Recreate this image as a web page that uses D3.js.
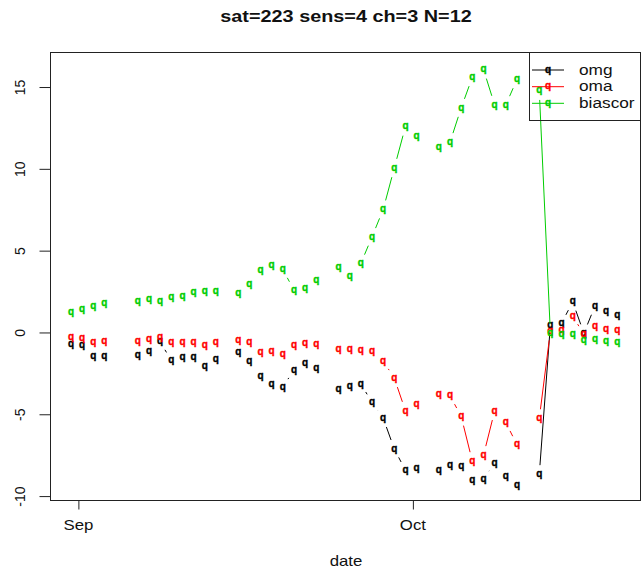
<!DOCTYPE html>
<html>
<head>
<meta charset="utf-8">
<script src="https://cdn.jsdelivr.net/npm/d3@7"></script>
<style>
  body { margin: 0; background: #fff; }
  text { font-family: "Liberation Sans", Arial, Helvetica, sans-serif; }
</style>
</head>
<body>
<svg id="chart" width="643" height="569"></svg>
<script>
// Daily observation dates (null values mark days with no data)
const dates = [
  "2020-08-31","2020-09-01","2020-09-02","2020-09-03","2020-09-04","2020-09-05",
  "2020-09-06","2020-09-07","2020-09-08","2020-09-09","2020-09-10","2020-09-11","2020-09-12","2020-09-13","2020-09-14",
  "2020-09-15","2020-09-16","2020-09-17","2020-09-18","2020-09-19","2020-09-20","2020-09-21","2020-09-22","2020-09-23",
  "2020-09-24","2020-09-25","2020-09-26","2020-09-27","2020-09-28","2020-09-29","2020-09-30","2020-10-01","2020-10-02",
  "2020-10-03","2020-10-04","2020-10-05","2020-10-06","2020-10-07","2020-10-08","2020-10-09","2020-10-10","2020-10-11",
  "2020-10-12","2020-10-13","2020-10-14","2020-10-15","2020-10-16","2020-10-17","2020-10-18","2020-10-19"
];
const omg = [
  -0.70, -0.76, -1.47, -1.47, null, null,
  -1.41, -1.13, -0.56, -1.72, -1.54, -1.54, -2.08, -1.62, null,
  -1.23, -1.78, -2.69, -3.14, -3.34, -2.29, -1.88, -2.18, null,
  -3.46, -3.26, -3.14, -4.28, -5.23, -7.12, -8.43, -8.28, null,
  -8.43, -8.12, -8.18, -9.04, -8.95, -7.98, -8.79, -9.34, null,
  -8.69, 0.46, 0.56, 1.88, -0.05, 1.62, 1.27, 1.07
];
const oma = [
  -0.29, -0.35, -0.62, -0.56, null, null,
  -0.56, -0.41, -0.29, -0.62, -0.62, -0.62, -0.76, -0.60, null,
  -0.46, -0.60, -1.23, -1.17, -1.31, -0.76, -0.66, -0.72, null,
  -1.02, -1.01, -1.07, -1.17, -1.74, -2.79, -4.79, -4.42, null,
  -3.75, -3.87, -5.13, -7.88, -7.51, -4.79, -5.50, -6.86, null,
  -5.27, 0.10, 0.11, 1.00, -0.11, 0.40, 0.19, 0.15
];
const biascor = [
  1.21, 1.41, 1.57, 1.78, null, null,
  1.88, 2.02, 1.92, 2.15, 2.24, 2.45, 2.53, 2.53, null,
  2.39, 2.96, 3.81, 4.10, 3.85, 2.59, 2.70, 3.16, null,
  4.01, 3.45, 4.22, 5.84, 7.51, 10.05, 12.59, 11.98, null,
  11.33, 11.63, 13.73, 15.60, 16.07, 13.91, 13.91, 15.46, null,
  14.79, -0.05, -0.11, -0.09, -0.46, -0.40, -0.52, -0.58
];
const seriesNames = ["omg", "oma", "biascor"];
const seriesColors = ["#000000", "#FF0000", "#00CD00"];
const yTicks = [-10, -5, 0, 5, 10, 15];
const xTickDates = ["2020-09-01", "2020-10-01"];
const xTickLabels = ["Sep", "Oct"];
const titleText = "sat=223 sens=4 ch=3 N=12";
const xLabel = "date";

const svg = d3.select("#chart");
const plot = { left: 50.5, right: 640.5, top: 52.5, bottom: 500.5 };

const obsTime = "T08:00:00Z";
const parsed = dates.map(d => new Date(d + obsTime));

const x = d3.scaleUtc()
  .domain([new Date("2020-08-29T12:00:00Z"), new Date("2020-10-21T11:00:00Z")])
  .range([plot.left, plot.right + 0.5]);
const y = d3.scaleLinear()
  .domain([-10.27, 17.11])
  .range([plot.bottom, plot.top]);

// horizontally widened text helper
function wideText(parent, tx, ty, str, size, sx, anchor, weight) {
  const g = parent.append("g").attr("transform", `translate(${tx},${ty}) scale(${sx},1)`);
  g.append("text").attr("text-anchor", anchor).attr("font-size", size)
    .attr("font-weight", weight || "normal").attr("fill", "#111").text(str);
  return g;
}

// point symbol: the character "q"
function symbol(sel, color) {
  sel.attr("text-anchor", "middle")
    .attr("font-size", 10).attr("font-weight", "bold")
    .attr("fill", color).attr("stroke", color).attr("stroke-width", 0.35)
    .text("q");
}

// title
wideText(svg, 346, 22, titleText, 16, 1.24, "middle", "bold");

// y axis
const yAxis = svg.append("g")
  .attr("transform", `translate(${plot.left},0)`)
  .call(d3.axisLeft(y).tickValues(yTicks).tickSize(11).tickSizeOuter(0).tickFormat(d => String(d)));
yAxis.select(".domain").remove();
yAxis.selectAll(".tick line").attr("stroke", "#222");
yAxis.selectAll(".tick text")
  .attr("x", null).attr("dy", null)
  .attr("transform", `translate(${25 - plot.left},0) rotate(-90)`)
  .attr("text-anchor", "middle")
  .attr("font-size", 14)
  .attr("fill", "#111")
  .style("font-family", "'Liberation Sans', Arial, sans-serif");

// x axis
const xAxis = svg.append("g")
  .attr("transform", `translate(0,${plot.bottom})`)
  .call(d3.axisBottom(x).tickValues(xTickDates.map(d => new Date(d + "T00:00:00Z")))
    .tickSize(9).tickSizeOuter(0).tickFormat((d, i) => xTickLabels[i]));
xAxis.select(".domain").remove();
xAxis.selectAll(".tick line").attr("stroke", "#222");
xAxis.selectAll(".tick text").remove();
xTickDates.forEach((d, i) => {
  wideText(svg, x(new Date(d + "T00:00:00Z")), 530, xTickLabels[i], 14, 1.2, "middle");
});

// x axis title
wideText(svg, 346, 566, xLabel, 14, 1.2, "middle");

// plot frame
svg.append("rect")
  .attr("x", plot.left).attr("y", plot.top)
  .attr("width", plot.right - plot.left).attr("height", plot.bottom - plot.top)
  .attr("fill", "none").attr("stroke", "#222").attr("stroke-width", 1);

// series: points joined by lines that stop short of each point
const gap = 9.5;
const seriesData = [omg, oma, biascor];
const layer = svg.append("g");
seriesData.forEach((vals, si) => {
  const color = seriesColors[si];
  const pts = vals.map((v, i) => v == null ? null : [x(parsed[i]), y(v)]);
  const segs = [];
  for (let i = 0; i < pts.length - 1; i++) {
    const a = pts[i], b = pts[i + 1];
    if (!a || !b) continue;
    const dx = b[0] - a[0], dy = b[1] - a[1];
    const len = Math.hypot(dx, dy);
    if (len <= 2 * gap) continue;
    const ux = dx / len, uy = dy / len;
    segs.push([a[0] + ux * gap, a[1] + uy * gap, b[0] - ux * gap, b[1] - uy * gap]);
  }
  layer.append("g").selectAll("line").data(segs).join("line")
    .attr("x1", d => d[0]).attr("y1", d => d[1])
    .attr("x2", d => d[2]).attr("y2", d => d[3])
    .attr("stroke", color).attr("stroke-width", 1);
  layer.append("g").selectAll("text")
    .data(vals.map((v, i) => ({ v, t: parsed[i] })).filter(d => d.v != null))
    .join("text")
    .attr("x", d => x(d.t)).attr("y", d => y(d.v) + 2.7)
    .call(symbol, color);
});

// legend
const lg = { left: 529.5, top: 52.5, right: 640.5, bottom: 120.5 };
svg.append("rect")
  .attr("x", lg.left).attr("y", lg.top)
  .attr("width", lg.right - lg.left).attr("height", lg.bottom - lg.top)
  .attr("fill", "none").attr("stroke", "#222").attr("stroke-width", 1);
const rowY = [70, 86.7, 103.3];
seriesNames.forEach((name, i) => {
  svg.append("line")
    .attr("x1", 532).attr("x2", 564).attr("y1", rowY[i]).attr("y2", rowY[i])
    .attr("stroke", seriesColors[i]).attr("stroke-width", 1);
  svg.append("text")
    .attr("x", 548).attr("y", rowY[i] + 2.7)
    .call(symbol, seriesColors[i]);
  wideText(svg, 579, rowY[i] + 4.6, name, 15, 1.15, "start");
});
</script>
</body>
</html>
